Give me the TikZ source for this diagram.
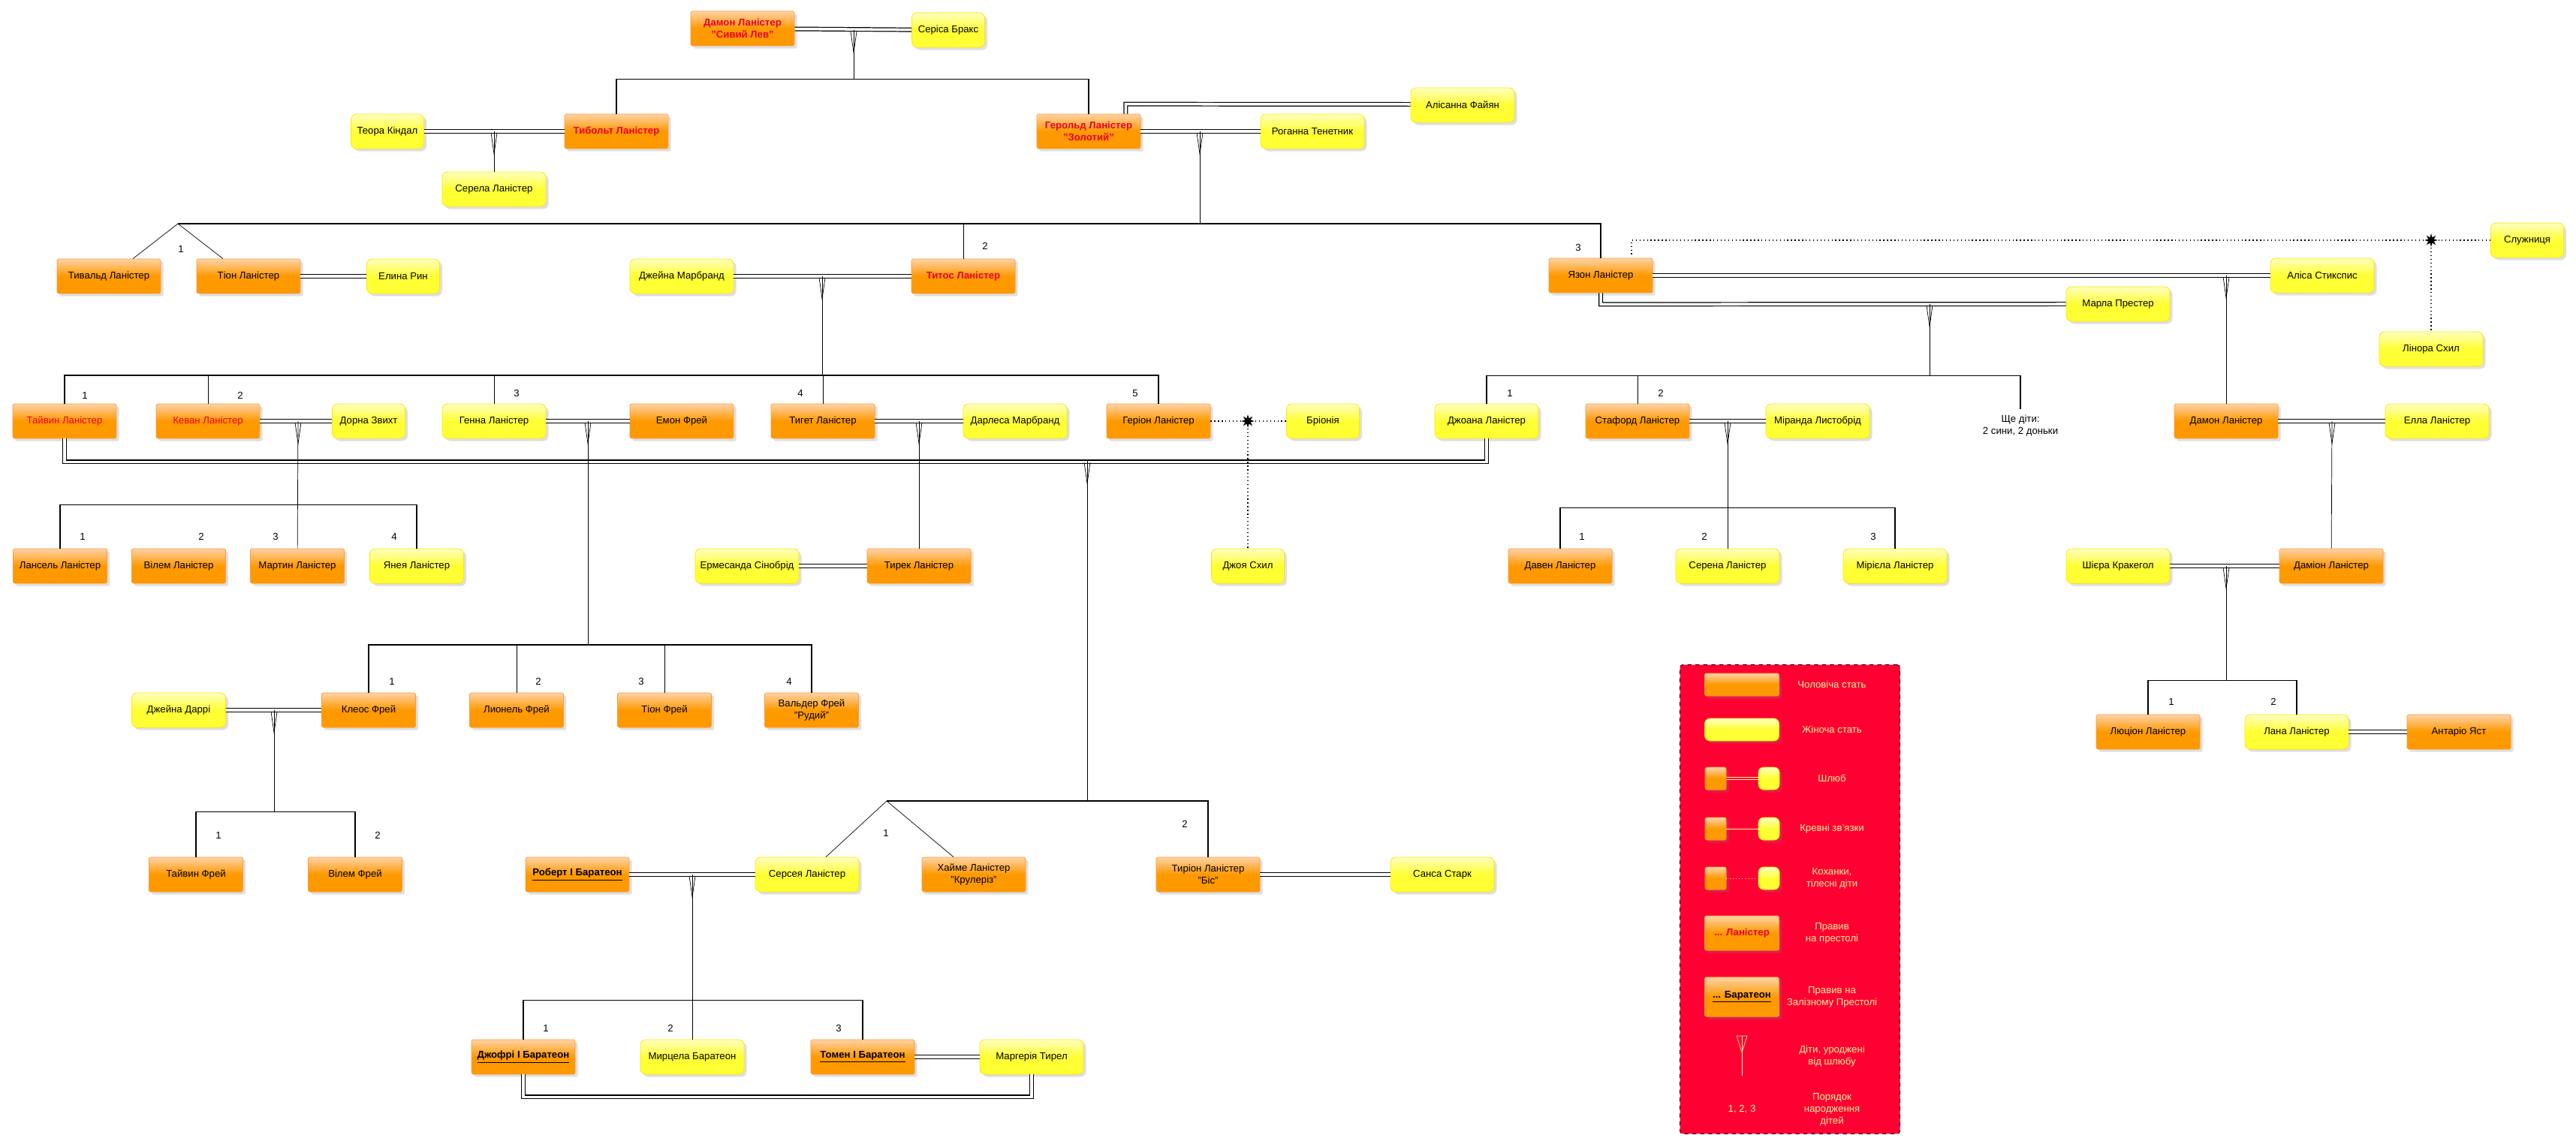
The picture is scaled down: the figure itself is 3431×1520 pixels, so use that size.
\documentclass[tikz,border=0pt]{standalone}
\usepackage{fontspec}
\setmainfont{Liberation Sans}
\usetikzlibrary{calc,shadows,shapes.geometric}
\usetikzlibrary{positioning}

\definecolor{orng}{HTML}{FF9900}
\definecolor{yell}{HTML}{FFFF33}
\definecolor{kingred}{HTML}{E8002A}
\definecolor{legred}{HTML}{FF0033}
\definecolor{legtxt}{HTML}{FFF59A}

\tikzset{
  x=0.02cm, y=-0.02cm,
  male/.style={draw=orange!80, fill=orng, top color=orange!35, bottom color=orng, middle color=orng,
    rounded corners=1pt, minimum width=2.76cm, minimum height=0.92cm, align=center,
    font=\fontsize{7.5}{9}\selectfont, drop shadow={opacity=.25, shadow xshift=2pt, shadow yshift=-2pt}},
  fem/.style={male, draw=yellow!90!orange, top color=yellow!25, bottom color=yell, middle color=yell,
    rounded corners=4pt},
  narrow/.style={minimum width=1.94cm},
  king/.style={text=kingred},
  wed/.style={draw=black, double, double distance=2pt, line width=.7pt},
  kin/.style={draw=black, line width=.4pt},
  bar/.style={draw=black, line width=.7pt},
  lover/.style={draw=black, dotted, line width=.8pt},
  num/.style={font=\fontsize{7.5}{9}\selectfont},
  starmark/.style={star, star points=8, star point ratio=2.2, fill=black, inner sep=0pt, minimum size=10pt},
}
% V mark under a marriage line
\newcommand{\vmark}[1]{\draw[kin] ($(#1)+(-4,2)$) -- ($(#1)+(0,30)$) -- ($(#1)+(4,2)$);}
\newcommand{\brt}[1]{\textbf{\underline{#1}}}

\begin{document}
\begin{tikzpicture}
\useasboundingbox (0,0) rectangle (3431,1520);

% generation 1
\node[male, king] (dmn) at (989,38) {\textbf{Дамон Ланістер}\\\textbf{"Сивий Лев"}};
\node[fem, narrow] (ser) at (1263,40) {Серіса Бракс};

% generation 2
\node[fem, narrow] (teo) at (516,175) {Теора Кіндал};
\node[male, king] (tyb) at (821,175) {\textbf{Тибольт Ланістер}};
\node[fem] (sre) at (658,252) {Серела Ланістер};
\node[male, king] (ger) at (1450,175) {\textbf{Герольд Ланістер}\\\textbf{"Золотий"}};
\node[fem] (rog) at (1748,175) {Роганна Тенетник};
\node[fem] (ali) at (1948,140) {Алісанна Файян};

% generation 3
\node[male] (tvd) at (145,368) {Тивальд Ланістер};
\node[male] (tio) at (331,368) {Тіон Ланістер};
\node[fem, narrow] (eli) at (537,368) {Елина Рин};
\node[fem] (jmb) at (908,368) {Джейна Марбранд};
\node[male, king] (tit) at (1283,368) {\textbf{Титос Ланістер}};
\node[male] (yas) at (2132,367) {Язон Ланістер};
\node[fem] (als) at (3093,367) {Аліса Стикспис};
\node[fem] (mpr) at (2821,405) {Марла Престер};
\node[fem, narrow] (slu) at (3366,320) {Служниця};
\node[fem] (lin) at (3238,465) {Лінора Схил};

% generation 4
\node[male, king] (tyw) at (86,561) {Тайвин Ланістер};
\node[male, king] (kev) at (277,561) {Кеван Ланістер};
\node[fem, narrow] (dor) at (491,561) {Дорна Звихт};
\node[fem] (gen) at (658,561) {Генна Ланістер};
\node[male] (emo) at (908,561) {Емон Фрей};
\node[male] (tyg) at (1096,561) {Тигет Ланістер};
\node[fem] (dar) at (1352,561) {Дарлеса Марбранд};
\node[male] (gri) at (1543,561) {Геріон Ланістер};
\node[fem, narrow] (bri) at (1762,561) {Бріонія};
\node[fem] (joa) at (1980,561) {Джоана Ланістер};
\node[male] (sta) at (2181,561) {Стафорд Ланістер};
\node[fem] (mir) at (2421,561) {Міранда Листобрід};
\node[num, align=center] (more) at (2691,567) {Ще діти:\\2 сини, 2 доньки};
\node[male] (dam) at (2965,561) {Дамон Ланістер};
\node[fem] (ell) at (3246,561) {Елла Ланістер};

% generation 5
\node[male, minimum width=2.5cm] (lan) at (80,754) {Лансель Ланістер};
\node[male, minimum width=2.5cm] (wil) at (238,754) {Вілем Ланістер};
\node[male, minimum width=2.5cm] (mar) at (396,754) {Мартин Ланістер};
\node[fem, minimum width=2.5cm] (jan) at (555,754) {Янея Ланістер};
\node[fem] (erm) at (995,754) {Ермесанда Сінобрід};
\node[male] (tir) at (1224,754) {Тирек Ланістер};
\node[fem, narrow] (joy) at (1662,754) {Джоя Схил};
\node[male] (dav) at (2078,754) {Давен Ланістер};
\node[fem] (sen) at (2301,754) {Серена Ланістер};
\node[fem] (mri) at (2524,754) {Мірієла Ланістер};
\node[fem] (shi) at (2821,754) {Шієра Кракегол};
\node[male] (dmi) at (3105,754) {Даміон Ланістер};

% Frey line
\node[fem, minimum width=2.5cm] (jdr) at (238,946) {Джейна Даррі};
\node[male, minimum width=2.5cm] (kle) at (491,946) {Клеос Фрей};
\node[male, minimum width=2.5cm] (lio) at (688,946) {Лионель Фрей};
\node[male, minimum width=2.5cm] (tif) at (885,946) {Тіон Фрей};
\node[male, minimum width=2.5cm] (wal) at (1081,946) {Вальдер Фрей\\"Рудий"};
\node[male, minimum width=2.5cm] (twf) at (261,1165) {Тайвин Фрей};
\node[male, minimum width=2.5cm] (wlf) at (473,1165) {Вілем Фрей};
\node[male] (luc) at (2861,975) {Люціон Ланістер};
\node[fem] (lna) at (3059,975) {Лана Ланістер};
\node[male] (ant) at (3275,975) {Антаріо Яст};

% generation 6
\node[male] (rob) at (769,1165) {\brt{Роберт І Баратеон}};
\node[fem] (cer) at (1075,1165) {Серсея Ланістер};
\node[male] (jai) at (1297,1165) {Хайме Ланістер\\"Крулеріз"};
\node[male] (tyr) at (1609,1165) {Тиріон Ланістер\\"Біс"};
\node[fem] (san) at (1921,1165) {Санса Старк};
\node[male] (jof) at (697,1408) {\brt{Джофрі І Баратеон}};
\node[fem] (myr) at (922,1408) {Мирцела Баратеон};
\node[male] (tom) at (1149,1408) {\brt{Томен І Баратеон}};
\node[fem] (mrg) at (1374,1408) {Маргерія Тирел};

% marriages
\draw[wed] (dmn) -- (ser);
\draw[wed] (teo) -- (tyb);
\draw[wed] (ger) -- (rog);
\draw[wed] (ger.north east) ++(-20,0) -- ++(0,-13) -- (ali.west |- {(0,139)});
\draw[wed] (tio) -- (eli);
\draw[wed] (jmb) -- (tit);
\draw[wed] (yas) -- (als);
\draw[wed] (yas.south) -- ++(0,15) -- (mpr.west |- {(0,405)});
\draw[wed] (kev) -- (dor);
\draw[wed] (gen) -- (emo);
\draw[wed] (tyg) -- (dar);
\draw[wed] (tyw.south) -- ++(0,31) -| (joa.south);
\draw[wed] (sta) -- (mir);
\draw[wed] (dam) -- (ell);
\draw[wed] (erm) -- (tir);
\draw[wed] (shi) -- (dmi);
\draw[wed] (jdr) -- (kle);
\draw[wed] (lna) -- (ant);
\draw[wed] (rob) -- (cer);
\draw[wed] (tyr) -- (san);
\draw[wed] (tom) -- (mrg);
\draw[wed] (jof.south) -- ++(0,30) -| (mrg.south);

% lovers
\node[starmark] (st1) at (1662,561) {};
\draw[lover] (gri) -- (st1) -- (bri);
\draw[lover] (st1) -- (joy);
\node[starmark] (st2) at (3238,320) {};
\draw[lover] (slu) -- (st2) -- (2173,320) -- (2173,342);
\draw[lover] (st2) -- (lin);

% V marks
\foreach \n/\x/\y in {v1/1137/40, v2/658/175, v3/1598/175, v4/1095/368, v5/2965/367,
  v6/2570/405, v7/397/561, v8/783/561, v9/1224/561, v10/1448/614, v11/2301/561,
  v12/3106/561, v13/2965/754, v14/365/946, v15/922/1165}
  {\coordinate (\n) at (\x,\y); \vmark{\n}}

% descent lines
\draw[kin] (v1) -- (1137,106);
\draw[kin] (v2) -- (sre);
\draw[kin] (v3) -- (1598,298);
\draw[kin] (v4) -- (1095,500);
\draw[kin] (v5) -- (dam);
\draw[kin] (v6) -- (2570,501);
\draw[kin] (v7) -- (mar);
\draw[kin] (v8) -- (783,859);
\draw[kin] (v9) -- (tir);
\draw[kin] (v10) -- (1448,1067);
\draw[kin] (v11) -- (sen);
\draw[kin] (v12) -- (dmi);
\draw[kin] (v13) -- (2965,907);
\draw[kin] (v14) -- (365,1082);
\draw[kin] (v15) -- (myr);

% children bars
\draw[bar] (tyb.north) -- ++(0,-46) -| (ger.north);
\coordinate (fk1) at (237,298);
\draw[bar] (fk1) -| (yas.north);
\draw[kin] (fk1) -- ($(tvd.north)+(32,0)$);
\draw[kin] (fk1) -- ($(tio.north)+(-34,0)$);
\draw[kin] (tit.north) -- (tit.north |- fk1);
\coordinate (tb) at (0,500);
\draw[bar] (tyw.north) -- (tyw.north |- tb) -| (gri.north);
\foreach \c in {kev, gen, tyg} \draw[kin] (\c.north) -- (\c.north |- tb);
\draw[bar] (lan.north) -- ++(0,-58) -| (jan.north);
\coordinate (fb) at (0,859);
\draw[bar] (kle.north) -- (kle.north |- fb) -| (wal.north);
\foreach \c in {lio, tif} \draw[kin] (\c.north) -- (\c.north |- fb);
\draw[bar] (twf.north) -- ++(0,-60) -| (wlf.north);
\coordinate (fk2) at (1181,1067);
\draw[bar] (fk2) -| (tyr.north);
\draw[kin] (fk2) -- ($(cer.north)+(25,0)$);
\draw[kin] (fk2) -- ($(jai.north)+(-27,0)$);
\draw[bar] (jof.north) -- ++(0,-52) -| (tom.north);
\draw[bar] (joa.north) -- ++(0,-37) -| (2691,545);
\draw[kin] (sta.north) -- (sta.north |- {(0,501)});
\draw[bar] (dav.north) -- ++(0,-54) -| (mri.north);
\draw[bar] (luc.north) -- ++(0,-45) -| (lna.north);

% birth order
\foreach \t/\x/\y in {1/241/332, 2/1312/328, 3/2102/330,
  1/113/527, 2/320/527, 3/688/524, 4/1066/524, 5/1512/524, 1/2011/524, 2/2212/524,
  1/110/715, 2/268/715, 3/367/715, 4/525/715, 1/2107/715, 2/2270/715, 3/2495/715,
  1/522/908, 2/717/908, 3/854/908, 4/1051/908, 1/291/1113, 2/503/1113,
  1/1180/1110, 2/1578/1098, 1/727/1370, 2/893/1370, 3/1117/1370, 1/2892/935, 2/3028/935}
  \node[num] at (\x,\y) {\t};

% legend
\node[draw=black, dashed, fill=legred, rounded corners=2pt, minimum width=5.86cm, minimum height=12.5cm] (leg) at (2384,1198) {};
\begin{scope}[every node/.append style={font=\fontsize{7.5}{9}\selectfont}]
\node[male, minimum width=1.98cm, minimum height=0.6cm] (lm) at (2320,912) {};
\node[text=legtxt, align=center] (lmt) at (2440,912) {Чоловіча стать};
\node[fem, minimum width=1.98cm, minimum height=0.6cm] (lf) at (2320,972) {};
\node[text=legtxt, align=center] (lft) at (2440,972) {Жіноча стать};
\node[male, minimum width=0.56cm, minimum height=0.6cm] (lm1) at (2285,1037) {};
\node[fem, minimum width=0.56cm, minimum height=0.6cm] (lf1) at (2356,1037) {};
\draw[draw=legtxt, double=legred, double distance=1.5pt, line width=.5pt] (lm1) -- (lf1);
\node[text=legtxt, align=center] (l1t) at (2440,1037) {Шлюб};
\node[male, minimum width=0.56cm, minimum height=0.6cm] (lm2) at (2285,1104) {};
\node[fem, minimum width=0.56cm, minimum height=0.6cm] (lf2) at (2356,1104) {};
\draw[draw=legtxt] (lm2) -- (lf2);
\node[text=legtxt, align=center] (l2t) at (2440,1104) {Кревні зв'язки};
\node[male, minimum width=0.56cm, minimum height=0.6cm] (lm3) at (2285,1170) {};
\node[fem, minimum width=0.56cm, minimum height=0.6cm] (lf3) at (2356,1170) {};
\draw[draw=legtxt, dotted] (lm3) -- (lf3);
\node[text=legtxt, align=center] (l3t) at (2440,1170) {Коханки,\\тілесні діти};
\node[male, king, minimum width=1.98cm] (lk) at (2320,1243) {\textbf{... Ланістер}};
\node[text=legtxt, align=center] (lkt) at (2440,1243) {Правив\\на престолі};
\node[male, minimum width=1.98cm, minimum height=1.05cm] (lb) at (2320,1328) {\brt{... Баратеон}};
\node[text=legtxt, align=center] (lbt) at (2440,1328) {Правив на\\Залізному Престолі};
\coordinate (lv) at (2320,1380);
\draw[draw=legtxt] ($(lv)+(-7,0)$) -- ($(lv)+(0,22)$) -- ($(lv)+(7,0)$) -- cycle;
\draw[draw=legtxt] (lv) -- ++(0,53);
\node[text=legtxt, align=center] (lvt) at (2440,1407) {Діти, уроджені\\від шлюбу};
\node[text=legtxt] (lnum) at (2320,1478) {1, 2, 3};
\node[text=legtxt, align=center] (lnt) at (2440,1478) {Порядок\\народження\\дітей};
\end{scope}
\end{tikzpicture}
\end{document}
